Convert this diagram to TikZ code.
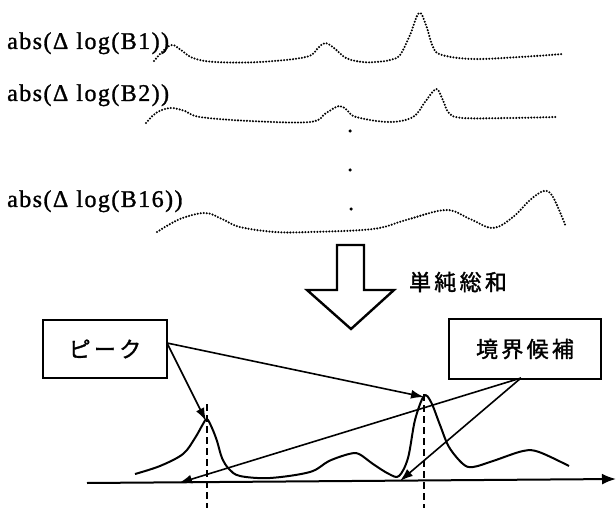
\documentclass[tikz,border=0pt]{standalone}
\usepackage{fontspec}
\setmainfont{Liberation Serif}
\newfontfamily\latlbl[LetterSpace=6,FakeBold=1.2]{Liberation Serif}
\newfontfamily\jplbl[LetterSpace=15,FakeBold=1.5]{Noto Sans CJK JP}
\usetikzlibrary{arrows.meta}
\begin{document}
\begin{tikzpicture}[x=1pt,y=-1pt,
  lbl/.style={anchor=base west, inner sep=0pt, font=\latlbl\fontsize{24}{28}\selectfont},
  jtext/.style={inner sep=0pt, font=\jplbl\fontsize{22}{26}\selectfont},
  jbox/.style={draw, line width=2.2pt, inner sep=0pt, font=\jplbl\fontsize{22}{26}\selectfont},
  dotcurve/.style={line width=2.3pt, line cap=round, dash pattern=on 0pt off 3pt},
  solidcurve/.style={line width=2pt},
  conn/.style={line width=1.6pt, -{Latex[length=13pt,width=9pt]}},
  vdash/.style={line width=2.2pt, dash pattern=on 7pt off 4pt},
  vdot/.style={fill, circle, inner sep=0pt, minimum size=3.5pt}]
\useasboundingbox (0,0) rectangle (616,508);

% labels
\node[lbl] (l1) at (7,49) {abs(Δ\hspace{8pt}log(B1))};
\node[lbl] (l2) at (7,101) {abs(Δ\hspace{8pt}log(B2))};
\node[lbl] (l3) at (7,207) {abs(Δ\hspace{8pt}log(B16))};

% dotted curves
\draw[dotcurve] plot[smooth, tension=0.6] coordinates {(154,61) (163,51) (172,45) (181,50) (193,58) (215,62) (260,62) (306,57) (318,48) (325,43) (334,48) (346,58) (362,62) (376,62) (390,60) (400,55) (410,35) (419,13) (426,25) (433,47) (442,55) (473,59) (520,57) (563,54)};
\draw[dotcurve] plot[smooth, tension=0.6] coordinates {(146,123) (156,113) (170,108) (185,111) (200,117) (250,121) (310,122) (326,113) (339,106) (347,110) (356,117) (389,122) (413,117) (425,102) (436,89) (442,98) (449,113) (463,118) (510,118) (556,117)};
\draw[dotcurve] plot[smooth, tension=0.6] coordinates {(157,232) (180,219) (205,213) (222,219) (240,227) (275,232) (310,232) (373,229) (406,220) (446,210) (470,219) (493,228) (513,217) (530,200) (544,191) (553,197) (566,227)};

% vertical dots
\node[vdot] (d1) at (350,131) {};
\node[vdot] (d2) at (350,170) {};
\node[vdot] (d3) at (351,209) {};

% hollow arrow
\draw[line width=2.4pt, line join=miter] (337,245) -- (364,245) -- (364,290) -- (394,290) -- (351,329) -- (307,290) -- (337,290) -- cycle;
\node[jtext] (sum) at (458,282) {単純総和};

% boxes
\node[jbox, minimum width=124pt, minimum height=58pt] (pk) at (105,349) {ピーク};
\node[jbox, minimum width=152pt, minimum height=60pt] (kb) at (525,349) {境界候補};

% axis
\coordinate (ax0) at (87,483);
\coordinate (ax1) at (616,479);
\draw[line width=2pt, -{Latex[length=14pt,width=11pt]}] (ax0) -- (ax1);

% dashed verticals
\coordinate (v1t) at (207,404);
\coordinate (v1b) at (207,508);
\coordinate (v2t) at (424,394);
\coordinate (v2b) at (424,508);
\draw[vdash] (v1t) -- (v1b);
\draw[vdash] (v2t) -- (v2b);

% solid curve
\draw[solidcurve] plot[smooth, tension=0.55] coordinates {(135,474) (160,466) (183,454) (195,438) (203,424) (207,419) (212,428) (217,441) (222,458) (229,469) (240,476) (270,478) (310,472) (329,461) (349,454) (359,454) (373,464) (389,474) (399,476) (408,458) (415,420) (424,396) (431,402) (440,425) (449,447) (463,464) (473,467) (493,461) (523,451) (539,452) (569,466)};

% connectors
\coordinate (pkA) at (167,343);
\coordinate (p1) at (206,421);
\coordinate (p2) at (424,397);
\coordinate (kbA) at (521,378);
\coordinate (b1) at (179,483);
\coordinate (b2) at (400,481);
\draw[conn] (pkA) -- (p1);
\draw[conn] (pkA) -- (p2);
\draw[conn] (kbA) -- (b1);
\draw[conn] (kbA) -- (b2);
\end{tikzpicture}
\end{document}
